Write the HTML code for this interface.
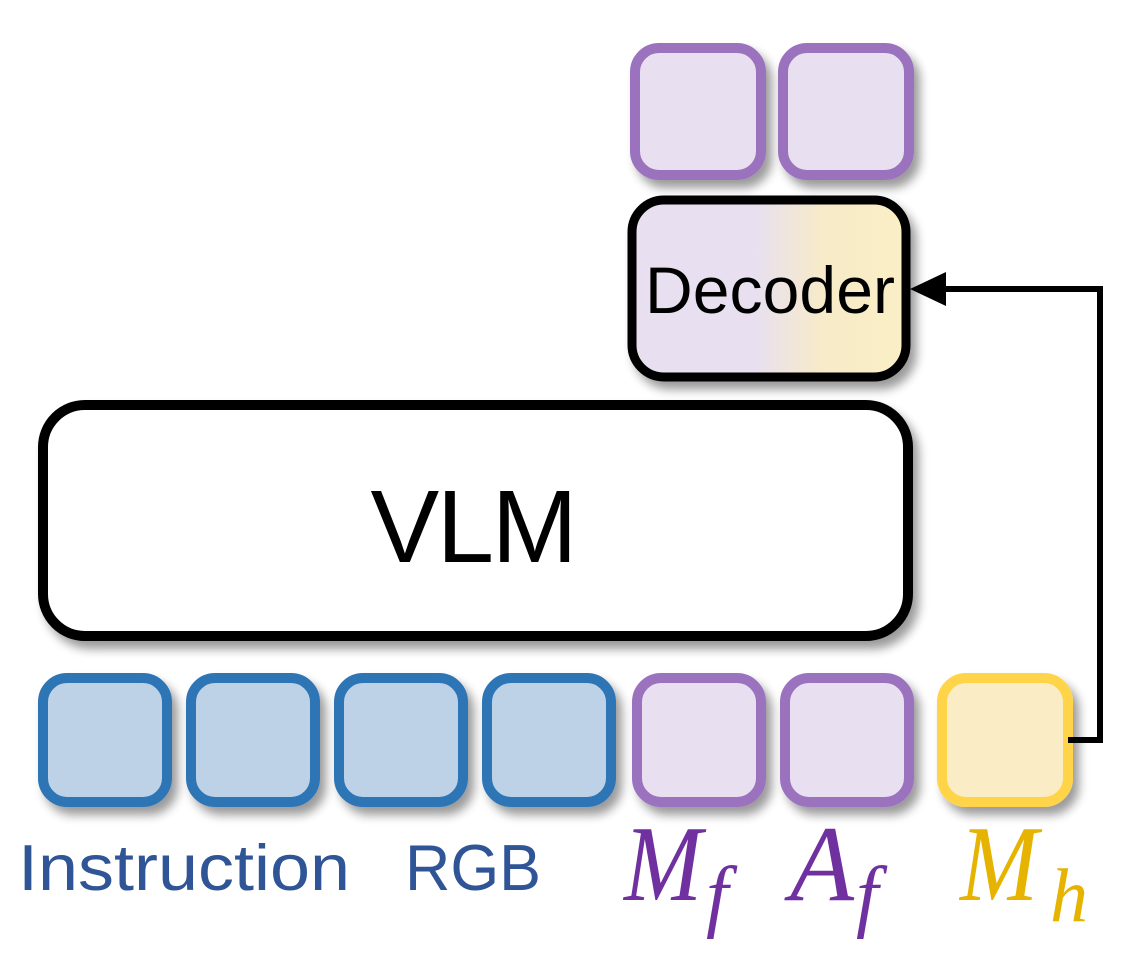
<!DOCTYPE html>
<html><head><meta charset="utf-8"><style>
html,body{margin:0;padding:0;background:#fff;}
svg{display:block;}
</style></head><body>
<svg width="1140" height="966" viewBox="0 0 1140 966" xmlns="http://www.w3.org/2000/svg">
<defs>
<filter id="sh" x="-20%" y="-20%" width="150%" height="150%">
<feGaussianBlur in="SourceAlpha" stdDeviation="5"/>
<feOffset dx="6" dy="8" result="b"/>
<feComponentTransfer><feFuncA type="linear" slope="0.4"/></feComponentTransfer>
<feMerge><feMergeNode/><feMergeNode in="SourceGraphic"/></feMerge>
</filter>
<linearGradient id="dg" x1="0" x2="1" y1="0" y2="0">
<stop offset="0" stop-color="#e8e0f0"/>
<stop offset="0.45" stop-color="#e8e0f0"/>
<stop offset="0.7" stop-color="#f7ebc8"/>
<stop offset="1" stop-color="#faefc6"/>
</linearGradient>
</defs>
<g filter="url(#sh)">
<rect x="635" y="48" width="126" height="127" rx="24" fill="#e8e0f0" stroke="#9b72be" stroke-width="10"/>
<rect x="783" y="48" width="126" height="127" rx="24" fill="#e8e0f0" stroke="#9b72be" stroke-width="10"/>
<rect x="632" y="200" width="274" height="177" rx="32" fill="url(#dg)" stroke="#000" stroke-width="9"/>
<rect x="43" y="405" width="865" height="231" rx="42" fill="#fff" stroke="#000" stroke-width="10"/>
<rect x="43" y="678" width="124" height="124" rx="24" fill="#bdd1e7" stroke="#2e75b6" stroke-width="10"/>
<rect x="191" y="678" width="124" height="124" rx="24" fill="#bdd1e7" stroke="#2e75b6" stroke-width="10"/>
<rect x="339" y="678" width="124" height="124" rx="24" fill="#bdd1e7" stroke="#2e75b6" stroke-width="10"/>
<rect x="487" y="678" width="124" height="124" rx="24" fill="#bdd1e7" stroke="#2e75b6" stroke-width="10"/>
<rect x="637" y="678" width="124" height="124" rx="24" fill="#e8e0f0" stroke="#9b72be" stroke-width="10"/>
<rect x="785" y="678" width="124" height="124" rx="24" fill="#e8e0f0" stroke="#9b72be" stroke-width="10"/>
<rect x="942" y="678" width="126" height="124" rx="24" fill="#faedc6" stroke="#ffd44a" stroke-width="10"/>
</g>
<text x="770" y="313" font-family="Liberation Sans, sans-serif" font-size="66" text-anchor="middle" textLength="250" fill="#000">Decoder</text>
<text x="474" y="562" font-family="Liberation Sans, sans-serif" font-size="103" text-anchor="middle" textLength="207" fill="#000">VLM</text>
<polyline points="1068,740 1100,740 1100,289 940,289" fill="none" stroke="#000" stroke-width="6"/>
<polygon points="910,289 946,272 946,306" fill="#000"/>
<text x="18" y="890" font-family="Liberation Sans, sans-serif" font-size="65" textLength="332" lengthAdjust="spacingAndGlyphs" fill="#2f5597">Instruction</text>
<text x="405" y="890" font-family="Liberation Sans, sans-serif" font-size="65" textLength="136" lengthAdjust="spacingAndGlyphs" fill="#2f5597">RGB</text>
<g font-family="Liberation Serif, serif" font-style="italic">
<text x="624" y="900" font-size="108" textLength="78" lengthAdjust="spacingAndGlyphs" fill="#7030a0">M</text>
<text x="706" y="922" font-size="80" fill="#7030a0">f</text>
<text x="790" y="900" font-size="108" textLength="64" lengthAdjust="spacingAndGlyphs" fill="#7030a0">A</text>
<text x="856" y="922" font-size="80" fill="#7030a0">f</text>
<text x="960" y="900" font-size="108" textLength="78" lengthAdjust="spacingAndGlyphs" fill="#e6b400">M</text>
<text x="1050" y="921" font-size="76" fill="#e6b400">h</text>
</g>
</svg>
</body></html>
